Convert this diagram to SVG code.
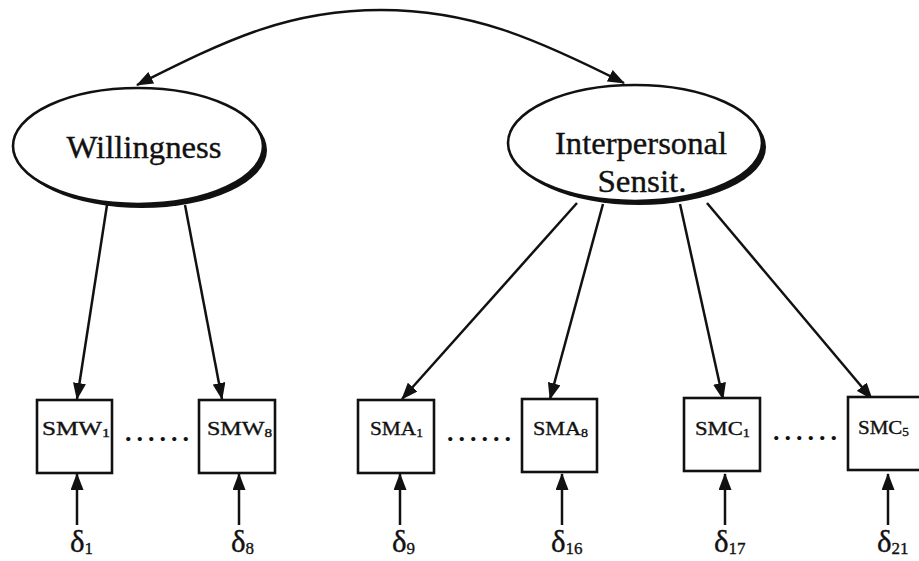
<svg xmlns="http://www.w3.org/2000/svg" width="919" height="561" viewBox="0 0 919 561">
  <style>
    .bg { fill: #ffffff; }
    .shadow { fill: #111111; }
    .latent { fill: #ffffff; stroke: #111111; stroke-width: 2.6; }
    .obs { fill: #ffffff; stroke: #111111; stroke-width: 2.6; }
    .edge { fill: none; stroke: #111111; stroke-width: 2.5; }
    .lbl { font-family: "Liberation Serif", "Times New Roman", serif; fill: #111111; stroke: #111111; stroke-width: 0.35; }
    .big { font-size: 31px; }
    .box { font-size: 19px; }
    .sub { font-size: 12px; }
    .dlt { font-size: 31px; }
    .dsub { font-size: 17px; }
    .dots { font-family: "Liberation Serif", serif; font-size: 26px; font-weight: bold; letter-spacing: 5px; fill: #111111; }
  </style>
  <defs>
    <marker id="head" markerUnits="userSpaceOnUse" viewBox="0 0 17 13" refX="16" refY="6.5" markerWidth="17" markerHeight="13" orient="auto-start-reverse">
      <path d="M0,0 L17,6.5 L0,13 Z" fill="#111111"/>
    </marker>
  </defs>

  <rect class="bg" x="0" y="0" width="919" height="561"/>

  <!-- connectors -->
  <g id="connectors">
    <!-- correlation between the two factors -->
    <path class="edge" d="M137,85 C230,38 290,10 381,10 C470,10 535,38 624,83" marker-start="url(#head)" marker-end="url(#head)"/>
    <!-- loadings: Willingness -->
    <line class="edge" x1="107" y1="205" x2="77" y2="399" marker-end="url(#head)"/>
    <line class="edge" x1="185" y1="205" x2="222" y2="399" marker-end="url(#head)"/>
    <!-- loadings: Interpersonal Sensit. -->
    <line class="edge" x1="577" y1="203" x2="402" y2="399" marker-end="url(#head)"/>
    <line class="edge" x1="603" y1="204" x2="550" y2="399" marker-end="url(#head)"/>
    <line class="edge" x1="680" y1="204" x2="723" y2="399" marker-end="url(#head)"/>
    <line class="edge" x1="707" y1="203" x2="872" y2="399" marker-end="url(#head)"/>
    <!-- measurement errors -->
    <line class="edge" x1="77" y1="525" x2="77" y2="474" marker-end="url(#head)"/>
    <line class="edge" x1="239" y1="525" x2="239" y2="474" marker-end="url(#head)"/>
    <line class="edge" x1="400" y1="525" x2="400" y2="474" marker-end="url(#head)"/>
    <line class="edge" x1="562" y1="525" x2="562" y2="474" marker-end="url(#head)"/>
    <line class="edge" x1="725" y1="525" x2="725" y2="474" marker-end="url(#head)"/>
    <line class="edge" x1="888" y1="525" x2="888" y2="474" marker-end="url(#head)"/>
  </g>

  <!-- latent factors -->
  <g id="willingness">
    <ellipse class="shadow" cx="142" cy="150" rx="125" ry="58"/>
    <ellipse class="latent" cx="138" cy="146" rx="125" ry="58"/>
    <text class="lbl big" x="144" y="158" text-anchor="middle" textLength="155" lengthAdjust="spacingAndGlyphs">Willingness</text>
  </g>
  <g id="interpersonal">
    <ellipse class="shadow" cx="639" cy="147" rx="127" ry="58"/>
    <ellipse class="latent" cx="635" cy="143" rx="127" ry="58"/>
    <text class="lbl big" x="641" y="154" text-anchor="middle" textLength="172" lengthAdjust="spacingAndGlyphs">Interpersonal</text>
    <text class="lbl big" x="642" y="192" text-anchor="middle" textLength="89" lengthAdjust="spacingAndGlyphs">Sensit.</text>
  </g>

  <!-- observed indicators -->
  <g id="smw1">
    <rect class="obs" x="37" y="400" width="75" height="73"/>
    <text class="lbl box" x="42" y="435" textLength="68" lengthAdjust="spacingAndGlyphs">SMW<tspan class="sub" dy="2">1</tspan></text>
  </g>
  <g id="smw8">
    <rect class="obs" x="199" y="400" width="76" height="73"/>
    <text class="lbl box" x="207" y="435" textLength="65" lengthAdjust="spacingAndGlyphs">SMW<tspan class="sub" dy="2">8</tspan></text>
  </g>
  <g id="sma1">
    <rect class="obs" x="358" y="400" width="76" height="73"/>
    <text class="lbl box" x="370" y="435" textLength="53" lengthAdjust="spacingAndGlyphs">SMA<tspan class="sub" dy="2">1</tspan></text>
  </g>
  <g id="sma8">
    <rect class="obs" x="522" y="399" width="75" height="73"/>
    <text class="lbl box" x="533" y="435" textLength="55" lengthAdjust="spacingAndGlyphs">SMA<tspan class="sub" dy="2">8</tspan></text>
  </g>
  <g id="smc1">
    <rect class="obs" x="684" y="398" width="76" height="73"/>
    <text class="lbl box" x="695" y="435" textLength="55" lengthAdjust="spacingAndGlyphs">SMC<tspan class="sub" dy="2">1</tspan></text>
  </g>
  <g id="smc5">
    <rect class="obs" x="848" y="397" width="77" height="73"/>
    <text class="lbl box" x="858" y="434" textLength="51" lengthAdjust="spacingAndGlyphs">SMC<tspan class="sub" dy="2">5</tspan></text>
  </g>

  <!-- ellipsis between indicators -->
  <g id="ellipses">
    <text class="dots" x="125" y="441">......</text>
    <text class="dots" x="447" y="441">......</text>
    <text class="dots" x="773" y="440">......</text>
  </g>

  <!-- error terms -->
  <g id="errors">
    <text class="lbl dlt" x="70" y="552">δ<tspan class="dsub" dy="2">1</tspan></text>
    <text class="lbl dlt" x="231" y="552">δ<tspan class="dsub" dy="2">8</tspan></text>
    <text class="lbl dlt" x="392" y="552">δ<tspan class="dsub" dy="2">9</tspan></text>
    <text class="lbl dlt" x="551" y="552">δ<tspan class="dsub" dy="2">16</tspan></text>
    <text class="lbl dlt" x="714" y="552">δ<tspan class="dsub" dy="2">17</tspan></text>
    <text class="lbl dlt" x="877" y="552">δ<tspan class="dsub" dy="2">21</tspan></text>
  </g>
</svg>
